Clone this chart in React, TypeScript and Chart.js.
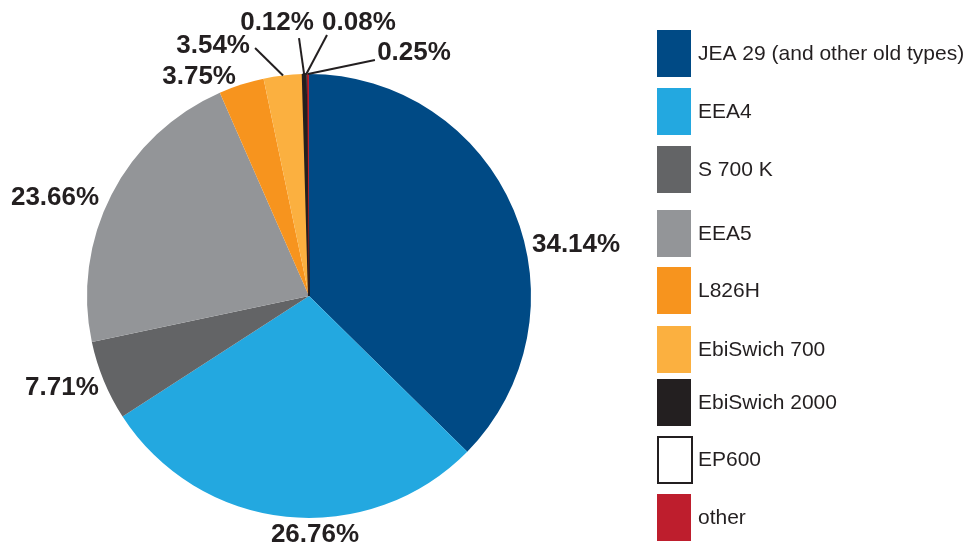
import React, { useEffect, useRef } from "react";
import { Chart, registerables } from "chart.js";

Chart.register(...registerables);

// ---- data ----
const categories = [
  "JEA 29 (and other old types)",
  "EEA4",
  "S 700 K",
  "EEA5",
  "L826H",
  "EbiSwich 700",
  "EbiSwich 2000",
  "EP600",
  "other",
];
// slice sizes as drawn in the picture (percent of the circle)
const sliceShares = [37.37, 28.5, 5.8, 21.75, 3.3, 2.83, 0.2, 0.12, 0.13];
// printed percentage labels
const valueLabels = ["34.14%", "26.76%", "7.71%", "23.66%", "3.75%", "3.54%", "0.12%", "0.08%", "0.25%"];

// ---- styles ----
const sliceColors = ["#004a85", "#23a8e0", "#636466", "#939598", "#f7941e", "#fbb040", "#231f20", "#ffffff", "#be1e2d"];
const sliceBorderColors = ["#004a85", "#23a8e0", "#636466", "#939598", "#f7941e", "#fbb040", "#231f20", "#231f20", "#be1e2d"];
const sliceBorderWidths = [0, 0, 0, 0, 0, 0, 2, 1.5, 0];
const TEXT_COLOR = "#231f20";

// label placement, in units of the pie radius relative to its centre
const labelPlaces: { dx: number; dy: number; leader?: [number, number] }[] = [
  { dx: 1.203, dy: -0.234 },
  { dx: 0.027, dy: 1.072 },
  { dx: -1.113, dy: 0.41 },
  { dx: -1.144, dy: -0.446 },
  { dx: -0.495, dy: -0.991 },
  { dx: -0.432, dy: -1.131, leader: [-0.243, -1.117] },
  { dx: -0.144, dy: -1.234, leader: [-0.045, -1.162] },
  { dx: 0.225, dy: -1.234, leader: [0.081, -1.176] },
  { dx: 0.473, dy: -1.099, leader: [0.297, -1.063] },
];

// legend layout
const LEGEND_BOX_X = 657;
const LEGEND_BOX_W = 34;
const LEGEND_BOX_H = 47;
const LEGEND_TEXT_X = 698;
const legendRowTops = [30, 88, 146, 210, 267, 326, 379, 436, 494];

const labelPlugin = {
  id: "sliceLabels",
  afterDatasetsDraw(chart: any) {
    const meta = chart.getDatasetMeta(0);
    const ctx = chart.ctx as CanvasRenderingContext2D;
    ctx.save();
    ctx.font = "bold 26px 'Liberation Sans', Arial, sans-serif";
    ctx.fillStyle = TEXT_COLOR;
    ctx.strokeStyle = TEXT_COLOR;
    ctx.lineWidth = 2;
    ctx.textAlign = "center";
    ctx.textBaseline = "middle";
    meta.data.forEach((arc: any, i: number) => {
      const p = arc.getProps(["x", "y", "startAngle", "endAngle", "outerRadius"], true);
      const mid = (p.startAngle + p.endAngle) / 2;
      const place = labelPlaces[i];
      if (place.leader) {
        const ex = p.x + Math.cos(mid) * p.outerRadius;
        const ey = p.y + Math.sin(mid) * p.outerRadius;
        ctx.beginPath();
        ctx.moveTo(ex, ey);
        ctx.lineTo(p.x + place.leader[0] * p.outerRadius, p.y + place.leader[1] * p.outerRadius);
        ctx.stroke();
      }
      ctx.fillText(valueLabels[i], p.x + place.dx * p.outerRadius, p.y + place.dy * p.outerRadius + 1);
    });
    ctx.restore();
  },
  afterDraw(chart: any) {
    const ctx = chart.ctx as CanvasRenderingContext2D;
    const ds = chart.data.datasets[0];
    ctx.save();
    ctx.font = "21px 'Liberation Sans', Arial, sans-serif";
    ctx.textAlign = "left";
    ctx.textBaseline = "middle";
    (chart.data.labels as string[]).forEach((lab, i) => {
      const top = legendRowTops[i];
      const fill = ds.backgroundColor[i];
      if (fill === "#ffffff") {
        ctx.fillStyle = "#ffffff";
        ctx.fillRect(LEGEND_BOX_X, top, LEGEND_BOX_W + 2, LEGEND_BOX_H + 1);
        ctx.strokeStyle = TEXT_COLOR;
        ctx.lineWidth = 2;
        ctx.strokeRect(LEGEND_BOX_X + 1, top + 1, LEGEND_BOX_W, LEGEND_BOX_H - 1);
      } else {
        ctx.fillStyle = fill;
        ctx.fillRect(LEGEND_BOX_X, top, LEGEND_BOX_W, LEGEND_BOX_H);
      }
      ctx.fillStyle = TEXT_COLOR;
      ctx.fillText(lab, LEGEND_TEXT_X, top + LEGEND_BOX_H / 2 + 1);
    });
    ctx.restore();
  },
};

export default function App() {
  const ref = useRef<HTMLCanvasElement>(null);
  useEffect(() => {
    if (!ref.current) return;
    const chart = new Chart(ref.current, {
      type: "pie",
      data: {
        labels: categories,
        datasets: [
          {
            data: sliceShares,
            backgroundColor: sliceColors,
            borderColor: sliceBorderColors,
            borderWidth: sliceBorderWidths,
          },
        ],
      },
      options: {
        responsive: false,
        animation: false,
        devicePixelRatio: 1,
        radius: 222,
        layout: { padding: { left: 87, right: 437, top: 74, bottom: 30 } },
        plugins: {
          legend: { display: false },
          tooltip: { enabled: false },
        },
      } as any,
      plugins: [labelPlugin],
    });
    return () => chart.destroy();
  }, []);
  return (
    <div style={{ position: "absolute", left: 0, top: 0, width: 968, height: 548, background: "#ffffff" }}>
      <canvas ref={ref} width={968} height={548} style={{ display: "block", width: 968, height: 548 }} />
    </div>
  );
}
